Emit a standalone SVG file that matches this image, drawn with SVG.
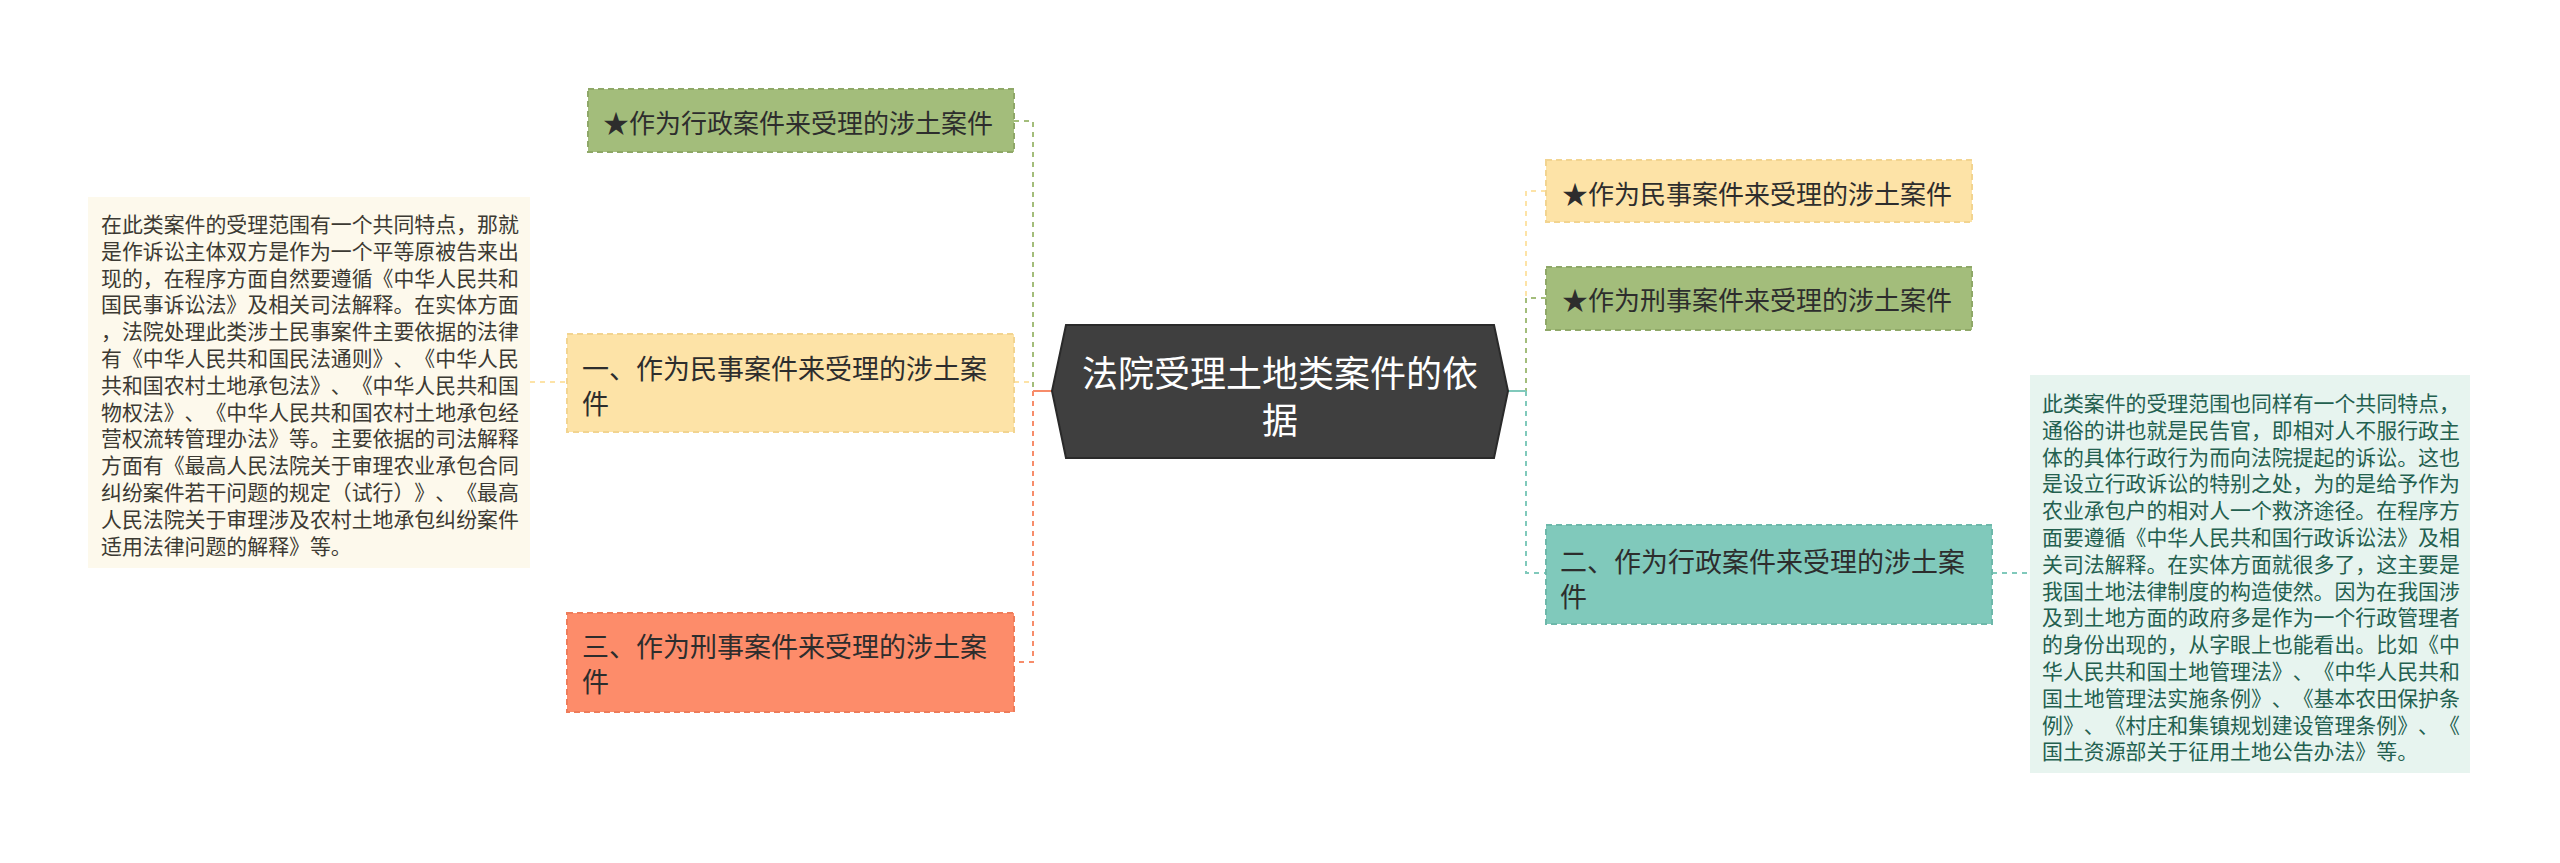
<svg xmlns="http://www.w3.org/2000/svg" width="2560" height="863" viewBox="0 0 2560 863">
<style>
text{font-family:"Noto Sans CJK SC","Noto Sans CJK TC",sans-serif;text-spacing-trim:space-all;font-feature-settings:"chws" 0,"halt" 0,"palt" 0;font-kerning:none;}
.n{font-size:27px;fill:#2d2d2d;}
.s{font-size:26px;fill:#2d2d2d;}
.c{font-size:36px;fill:#ffffff;}
.tl{font-size:20.9px;fill:#3c3a33;}
.tr{font-size:20.9px;fill:#23604f;}
.box{stroke-width:2;stroke-dasharray:6,4;}
.ln{fill:none;stroke-width:2;stroke-dasharray:5,5;}
</style>
<rect width="2560" height="863" fill="#ffffff"/>
<g id="connectors">
<polyline class="ln" stroke="#a3bd7b" points="1014,121 1033,121 1033,391"/>
<polyline class="ln" stroke="#fde3a7" points="1014,382 1033,382"/>
<line x1="1033" y1="391" x2="1052" y2="391" stroke="#f78c6a" stroke-width="2"/>
<polyline class="ln" stroke="#f78c6a" points="1033,391 1033,662 1014,662"/>
<line class="ln" stroke="#fde3a7" x1="530" y1="382" x2="567" y2="382"/>
<polyline class="ln" stroke="#fde3a7" points="1546,191 1526,191 1526,298"/>
<polyline class="ln" stroke="#a3bd7b" points="1546,298 1526,298 1526,391"/>
<line x1="1508" y1="391" x2="1526" y2="391" stroke="#80c9bb" stroke-width="2"/>
<polyline class="ln" stroke="#80c9bb" points="1526,391 1526,573 1546,573"/>
<line class="ln" stroke="#80c9bb" x1="1992" y1="573" x2="2030" y2="573"/>
</g>
<g id="center">
<polygon points="1066,325 1494,325 1508,391 1494,458 1066,458 1052,391" fill="#3f3f3f" stroke="#2a2a2a" stroke-width="2"/>
<text class="c" x="1280" y="371" text-anchor="middle" dominant-baseline="central">法院受理土地类案件的依</text>
<text class="c" x="1280" y="418" text-anchor="middle" dominant-baseline="central">据</text>
</g>
<g id="node-admin-star">
<rect class="box" x="588" y="89" width="426" height="63" fill="#a3bd7b" stroke="#8fa868"/>
<text class="s" x="603" y="121" dominant-baseline="central">★作为行政案件来受理的涉土案件</text>
</g>
<g id="node-civil">
<rect class="box" x="567" y="334" width="447" height="98" fill="#fde3a7" stroke="#f2d490"/>
<text class="n" x="582" y="367" dominant-baseline="central">一、作为民事案件来受理的涉土案</text>
<text class="n" x="582" y="402" dominant-baseline="central">件</text>
</g>
<g id="node-criminal">
<rect class="box" x="567" y="613" width="447" height="99" fill="#fd8c6a" stroke="#ee7c5a"/>
<text class="n" x="582" y="645" dominant-baseline="central">三、作为刑事案件来受理的涉土案</text>
<text class="n" x="582" y="680" dominant-baseline="central">件</text>
</g>
<g id="note-civil">
<rect x="88" y="197" width="442" height="371" fill="#fdf9ec"/>
<text class="tl" x="101" y="223" dominant-baseline="central">在此类案件的受理范围有一个共同特点，那就</text>
<text class="tl" x="101" y="249.8" dominant-baseline="central">是作诉讼主体双方是作为一个平等原被告来出</text>
<text class="tl" x="101" y="276.6" dominant-baseline="central">现的，在程序方面自然要遵循《中华人民共和</text>
<text class="tl" x="101" y="303.4" dominant-baseline="central">国民事诉讼法》及相关司法解释。在实体方面</text>
<text class="tl" x="101" y="330.2" dominant-baseline="central">，法院处理此类涉土民事案件主要依据的法律</text>
<text class="tl" x="101" y="357" dominant-baseline="central">有《中华人民共和国民法通则》、《中华人民</text>
<text class="tl" x="101" y="383.8" dominant-baseline="central">共和国农村土地承包法》、《中华人民共和国</text>
<text class="tl" x="101" y="410.6" dominant-baseline="central">物权法》、《中华人民共和国农村土地承包经</text>
<text class="tl" x="101" y="437.4" dominant-baseline="central">营权流转管理办法》等。主要依据的司法解释</text>
<text class="tl" x="101" y="464.2" dominant-baseline="central">方面有《最高人民法院关于审理农业承包合同</text>
<text class="tl" x="101" y="491" dominant-baseline="central">纠纷案件若干问题的规定（试行）》、《最高</text>
<text class="tl" x="101" y="517.8" dominant-baseline="central">人民法院关于审理涉及农村土地承包纠纷案件</text>
<text class="tl" x="101" y="544.6" dominant-baseline="central">适用法律问题的解释》等。</text>
</g>
<g id="node-civil-star">
<rect class="box" x="1546" y="160" width="426" height="62" fill="#fde3a7" stroke="#f2d490"/>
<text class="s" x="1562" y="192" dominant-baseline="central">★作为民事案件来受理的涉土案件</text>
</g>
<g id="node-criminal-star">
<rect class="box" x="1546" y="267" width="426" height="63" fill="#a3bd7b" stroke="#8fa868"/>
<text class="s" x="1562" y="298" dominant-baseline="central">★作为刑事案件来受理的涉土案件</text>
</g>
<g id="node-admin">
<rect class="box" x="1546" y="525" width="446" height="99" fill="#80c9bb" stroke="#6db8aa"/>
<text class="n" x="1560" y="560" dominant-baseline="central">二、作为行政案件来受理的涉土案</text>
<text class="n" x="1560" y="595" dominant-baseline="central">件</text>
</g>
<g id="note-admin">
<rect x="2030" y="375" width="440" height="398" fill="#e7f4ef"/>
<text class="tr" x="2042" y="402" dominant-baseline="central">此类案件的受理范围也同样有一个共同特点，</text>
<text class="tr" x="2042" y="428.8" dominant-baseline="central">通俗的讲也就是民告官，即相对人不服行政主</text>
<text class="tr" x="2042" y="455.6" dominant-baseline="central">体的具体行政行为而向法院提起的诉讼。这也</text>
<text class="tr" x="2042" y="482.4" dominant-baseline="central">是设立行政诉讼的特别之处，为的是给予作为</text>
<text class="tr" x="2042" y="509.2" dominant-baseline="central">农业承包户的相对人一个救济途径。在程序方</text>
<text class="tr" x="2042" y="536" dominant-baseline="central">面要遵循《中华人民共和国行政诉讼法》及相</text>
<text class="tr" x="2042" y="562.8" dominant-baseline="central">关司法解释。在实体方面就很多了，这主要是</text>
<text class="tr" x="2042" y="589.6" dominant-baseline="central">我国土地法律制度的构造使然。因为在我国涉</text>
<text class="tr" x="2042" y="616.4" dominant-baseline="central">及到土地方面的政府多是作为一个行政管理者</text>
<text class="tr" x="2042" y="643.2" dominant-baseline="central">的身份出现的，从字眼上也能看出。比如《中</text>
<text class="tr" x="2042" y="670" dominant-baseline="central">华人民共和国土地管理法》、《中华人民共和</text>
<text class="tr" x="2042" y="696.8" dominant-baseline="central">国土地管理法实施条例》、《基本农田保护条</text>
<text class="tr" x="2042" y="723.6" dominant-baseline="central">例》、《村庄和集镇规划建设管理条例》、《</text>
<text class="tr" x="2042" y="750.4" dominant-baseline="central">国土资源部关于征用土地公告办法》等。</text>
</g>
</svg>
